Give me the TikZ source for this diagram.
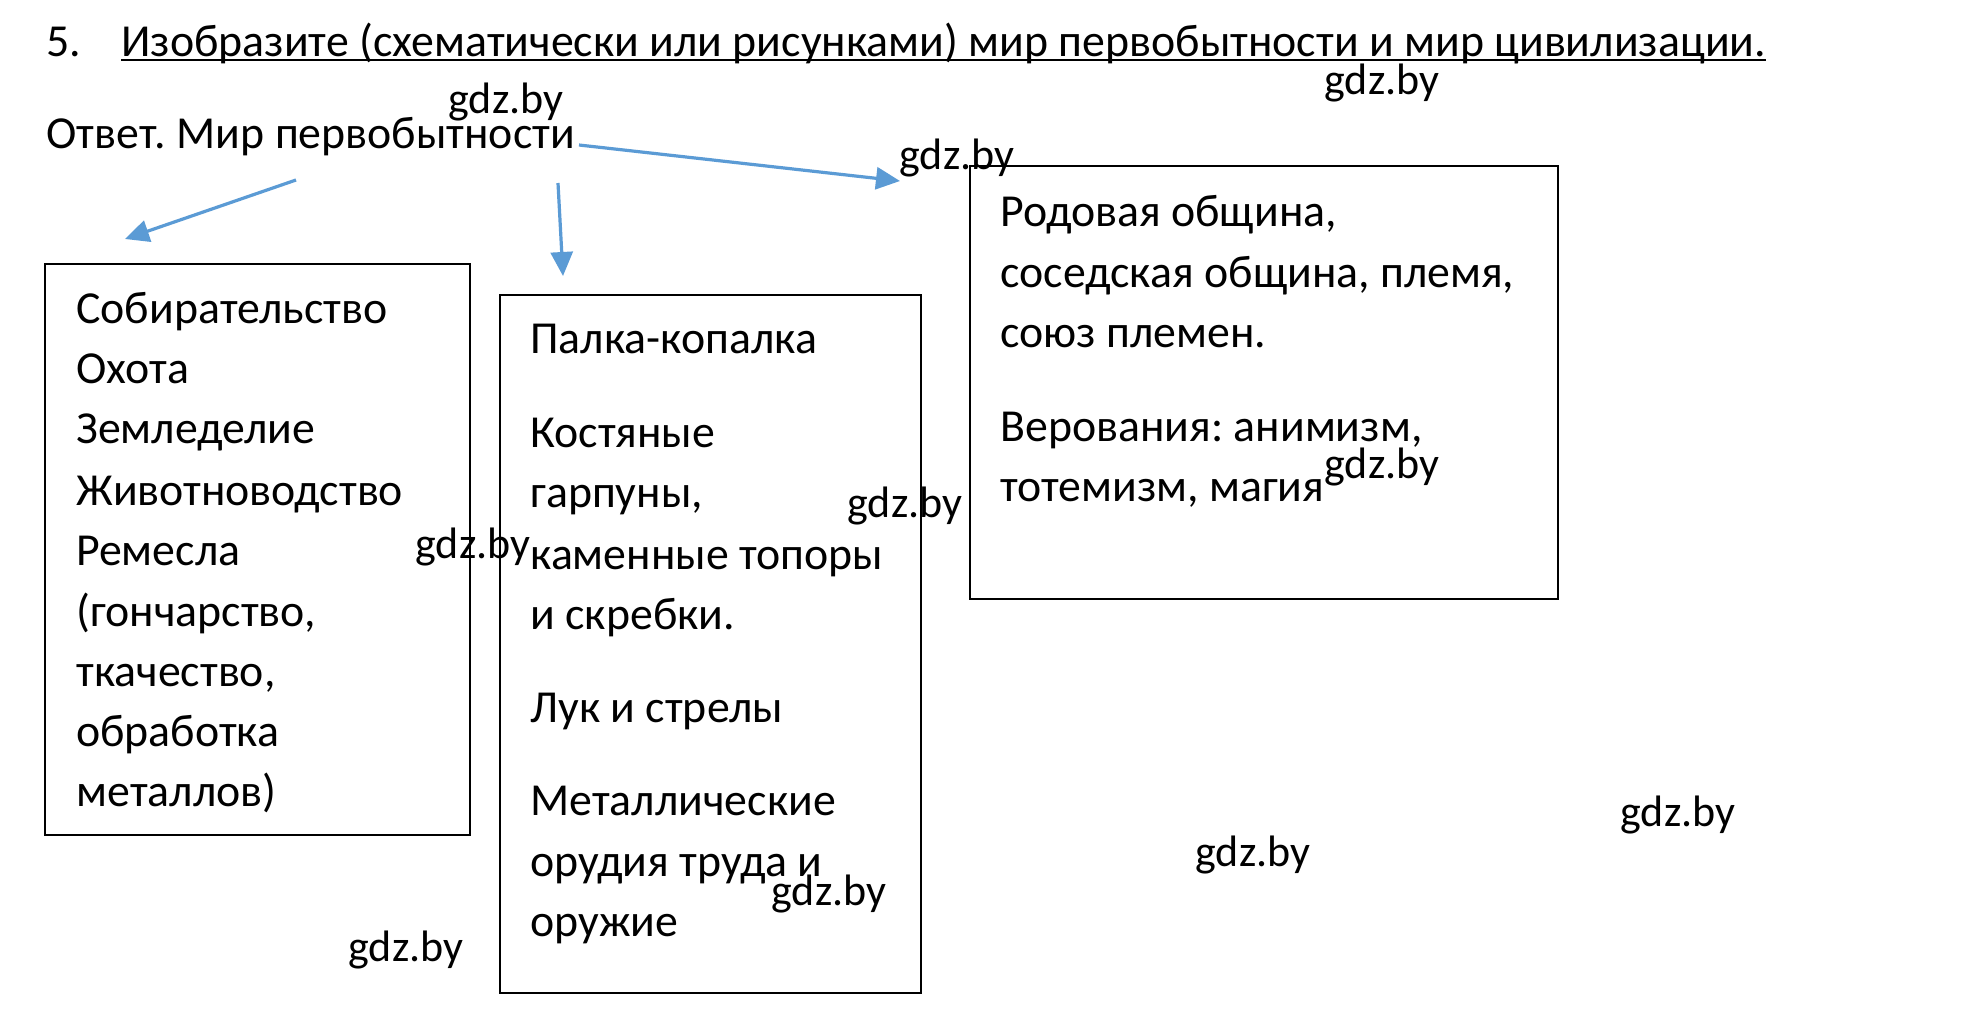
\documentclass[tikz,border=0pt]{standalone}
\usepackage{fontspec}
\setmainfont{Carlito}
\usetikzlibrary{arrows.meta,calc}
\definecolor{arrblue}{RGB}{91,155,213}
\tikzset{
  txt/.style={anchor=base west,inner sep=0pt,yshift=-1.2pt,font=\fontsize{22.9}{27}\selectfont},
  wm/.style={anchor=center,inner sep=0pt,yshift=-1.2pt,font=\fontsize{22}{26}\selectfont},
  boxr/.style={draw=black,line width=1pt,anchor=north west,inner sep=0pt},
  arr/.style={draw=arrblue,line width=1.6pt,-{Triangle[length=12pt,width=11pt]}}
}
\frenchspacing
\begin{document}
\begin{tikzpicture}[x=0.5pt,y=-0.5pt]
\path[use as bounding box,fill=white] (0,0) rectangle (1961,1022);
% title
\node[txt] (num) at (46,54) {5.};
\node[txt] (title) at (121,54) {Изобразите (схематически или рисунками) мир первобытности и мир цивилизации.};
\draw[line width=1.1pt] ($(title.base west)+(0,4)$) -- ($(title.base east)+(0,4)$);
\node[txt] (ans) at (46,146) {Ответ. Мир первобытности};
% boxes
\node[boxr,minimum width=212.5pt,minimum height=285.5pt] (b1) at (44,263) {};
\node[boxr,minimum width=210.5pt,minimum height=349pt] (b2) at (499,294) {};
\node[boxr,minimum width=294pt,minimum height=216.5pt] (b3) at (969,165) {};
% box 1 text
\node[txt] (a1) at (76,321) {Собирательство};
\node[txt] (a2) at (76,381) {Охота};
\node[txt] (a3) at (76,441) {Земледелие};
\node[txt] (a4) at (76,503) {Животноводство};
\node[txt] (a5) at (76,563) {Ремесла};
\node[txt] (a6) at (76,624) {(гончарство,};
\node[txt] (a7) at (76,684) {ткачество,};
\node[txt] (a8) at (76,744) {обработка};
\node[txt] (a9) at (76,804) {металлов)};
% box 2 text
\node[txt] (c1) at (530,351) {Палка-копалка};
\node[txt] (c2) at (530,445) {Костяные};
\node[txt] (c3) at (530,505) {гарпуны,};
\node[txt] (c4) at (530,567) {каменные топоры};
\node[txt] (c5) at (530,627) {и скребки.};
\node[txt] (c6) at (530,720) {Лук и стрелы};
\node[txt] (c7) at (530,813) {Металлические};
\node[txt] (c8) at (530,874) {орудия труда и};
\node[txt] (c9) at (530,934) {оружие};
% box 3 text
\node[txt] (d1) at (1000,224) {Родовая община,};
\node[txt] (d2) at (1000,285) {соседская община, племя,};
\node[txt] (d3) at (1000,345) {союз племен.};
\node[txt] (d4) at (1000,439) {Верования: анимизм,};
\node[txt] (d5) at (1000,499) {тотемизм, магия};
% arrows
\coordinate (s1) at (296,180);
\coordinate (e1) at (125,239);
\coordinate (s2) at (558,183);
\coordinate (e2) at (563,276);
\coordinate (s3) at (579,145);
\coordinate (e3) at (900,181);
\draw[arr] (s1) -- (e1);
\draw[arr] (s2) -- (e2);
\draw[arr] (s3) -- (e3);
% watermarks
\node[wm] (w1) at (506,100) {gdz.by};
\node[wm] (w2) at (1382,81) {gdz.by};
\node[wm] (w3) at (957,156) {gdz.by};
\node[wm] (w4) at (1382,465) {gdz.by};
\node[wm] (w5) at (905,504) {gdz.by};
\node[wm] (w6) at (473,545) {gdz.by};
\node[wm] (w7) at (1253,853) {gdz.by};
\node[wm] (w8) at (1678,813) {gdz.by};
\node[wm] (w9) at (829,892) {gdz.by};
\node[wm] (w10) at (406,948) {gdz.by};
\end{tikzpicture}
\end{document}
